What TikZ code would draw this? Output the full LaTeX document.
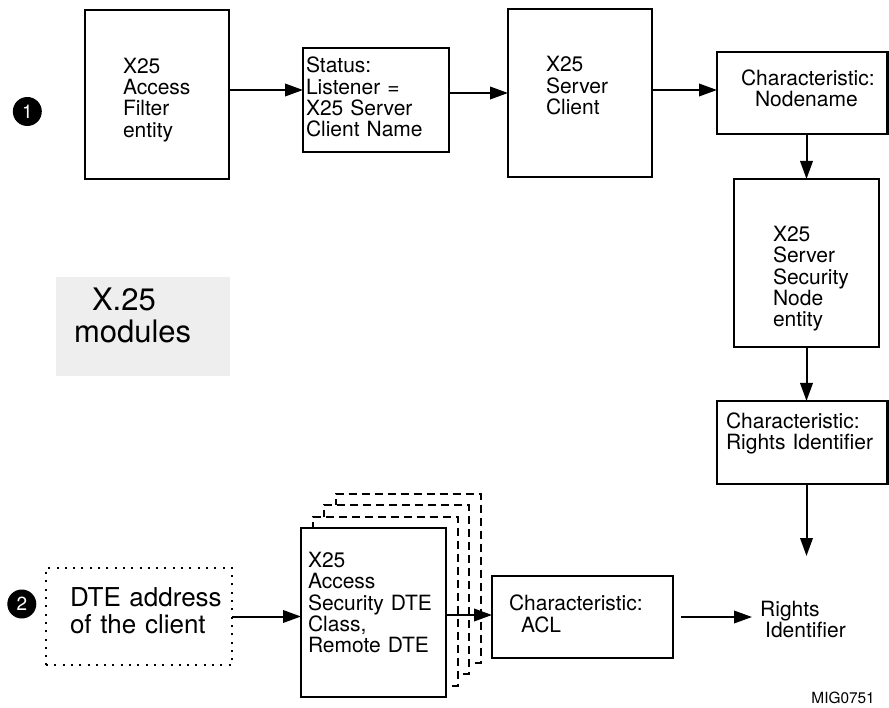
\documentclass[tikz,border=0pt]{standalone}
\usepackage{fontspec}
\setmainfont{TeX Gyre Heros}
\usetikzlibrary{arrows.meta, positioning, backgrounds, calc}
\newcommand{\boxfont}{\fontsize{21}{21.3}\selectfont}
\newcommand{\bigfont}{\fontsize{26}{26.5}\selectfont}
\newcommand{\hugefont}{\fontsize{31}{32}\selectfont}
\newcommand{\topgap}[1]{\rule{0pt}{#1}}
\newcommand{\botgap}[1]{\rule[-#1]{0pt}{#1}}
\definecolor{colPanel}{RGB}{238,238,238}
\tikzset{
  box/.style={
    rectangle, draw=black, line width=2.2pt, fill=white,
    align=left, font=\boxfont, inner ysep=3pt, outer sep=0pt
  },
  ghostbox/.style={draw=black, fill=white, line width=2pt, dash pattern=on 8pt off 5pt},
  dotbox/.style={box, fill=none, line width=2pt, dash pattern=on 2pt off 6.3pt, font=\bigfont},
  panel/.style={rectangle, fill=colPanel, align=left, font=\hugefont, inner ysep=3pt, outer sep=0pt},
  marker/.style={circle, fill=black, text=white, minimum size=29pt, inner sep=0pt,
    font=\fontsize{19}{19}\selectfont},
  arr/.style={-{Triangle[length=18pt,width=12.5pt]}, line width=2pt},
  plain/.style={align=left, font=\boxfont, inner sep=4pt},
  tag/.style={font=\fontsize{15.4}{16}\selectfont, inner sep=2pt}
}
\begin{document}
\begin{tikzpicture}[x=1pt, y=-1pt]
  \useasboundingbox (0,0) rectangle (889,708);

  % top row
  \node[box, minimum height=169pt, inner xsep=38pt, text width=68pt] (filter) at (157,94.5)
    {\topgap{25.8pt}X25\\Access\\Filter\\entity};
  \node[box, right=74pt of filter, yshift=-5.5pt, minimum height=104pt, inner xsep=3pt, text width=140pt] (status)
    {Status:\\Listener =\\X25 Server\\Client Name\botgap{6pt}};
  \node[box, right=59pt of status, yshift=7pt, minimum height=168pt, inner xsep=38pt, text width=68pt] (client)
    {X25\\Server\\Client\botgap{15pt}};
  \node[box, right=65pt of client, minimum height=82pt, inner xsep=24pt, text width=122.5pt] (nodename)
    {Characteristic:\\\hspace*{14pt}Nodename\botgap{10pt}};
  \node[marker, left=43pt of filter, yshift=-17pt] (one) {1};

  % right column
  \node[box, below=45pt of nodename, xshift=4.25pt, minimum height=168pt, inner xsep=39pt, text width=67pt] (secnode)
    {\topgap{47pt}X25\\Server\\Security\\Node\\entity};
  \node[box, below=54pt of secnode, xshift=-4.25pt, minimum height=83pt, inner xsep=9pt, text width=152.5pt] (rightsChar)
    {Characteristic:\\Rights Identifier\botgap{22.5pt}};
  \coordinate (ridEnd) at ($(secnode.south |- rightsChar.south)+(0,72)$);

  % panel
  \node[panel, minimum height=99pt, inner xsep=18pt, text width=138pt] (modules) at (143,326.5)
    {\hspace*{18pt}X.25\\modules\botgap{23.3pt}};

  % bottom row
  \node[dotbox, minimum height=97pt, inner xsep=24pt, text width=138pt] (dte) at (139,616.5)
    {\mbox{DTE address}\\of the client\botgap{11.8pt}};
  \node[marker, left=9.5pt of dte, yshift=12.5pt] (two) {2};
  \node[box, right=69pt of dte, yshift=4pt, minimum height=169pt, inner xsep=7pt, text width=131pt] (dteClass)
    {X25\\Access\\Security DTE\\Class,\\Remote DTE\botgap{20.3pt}};
  \node[box, right=46pt of dteClass, yshift=-4.5pt, minimum height=82pt, inner xsep=17pt, text width=147pt] (acl)
    {Characteristic:\\\hspace*{12pt}ACL\botgap{6.7pt}};
  \node[plain, right=83pt of acl, yshift=-2.6pt] (rights) {Rights\\\hspace*{5pt}Identifier};
  \node[tag, anchor=south east] (figid) at (877,706) {MIG0751};

  % stacked copies behind the DTE class
  \begin{scope}[on background layer]
    \foreach \k in {3,2,1}
      \draw[ghostbox] ([shift={(11.5*\k,-11.5*\k)}]dteClass.south west)
        rectangle ([shift={(11.5*\k,-11.5*\k)}]dteClass.north east);
  \end{scope}

  % connectors
  \draw[arr] ([yshift=4.5pt]filter.east) -- ([yshift=4.5pt]filter.east -| status.west);
  \draw[arr] (status.east |- client) -- (client.west);
  \draw[arr] ([yshift=3pt]client.east) -- ([yshift=3pt]nodename.west);
  \draw[arr] (nodename.south -| secnode) -- (secnode.north);
  \draw[arr] (secnode.south) -- (secnode.south |- rightsChar.north);
  \draw[arr] (rightsChar.south -| secnode) -- (ridEnd);
  \draw[arr] (dte.east) -- (dte.east -| dteClass.west);
  \draw[arr] ([yshift=2pt]acl.west -| dteClass.east) -- ([yshift=2pt]acl.west);
  \draw[arr, shorten <=8pt, shorten >=4pt] (acl.east) -- (acl.east -| rights.west);

\end{tikzpicture}
\end{document}
